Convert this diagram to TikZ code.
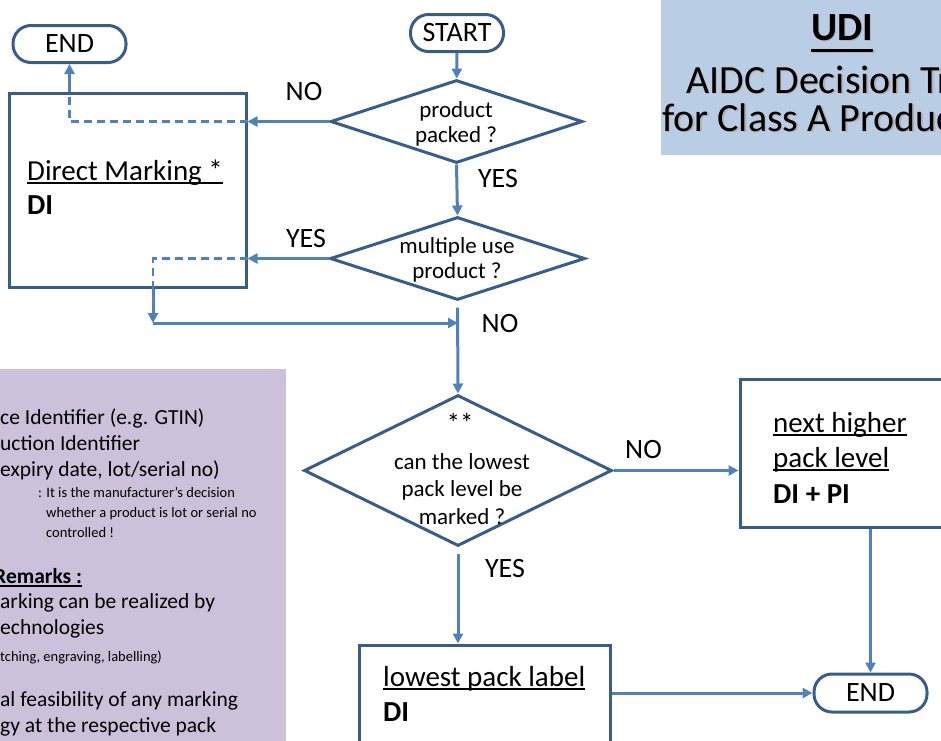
\documentclass[tikz,border=0pt]{standalone}
\usepackage{fontspec}
\setmainfont{Carlito}
\usetikzlibrary{arrows.meta,shapes.geometric}
\definecolor{connc}{RGB}{79,129,189}
\definecolor{bordc}{RGB}{56,93,138}
\definecolor{udifill}{RGB}{185,205,229}
\definecolor{purpfill}{RGB}{204,193,218}
\newlength\ulwd
\newcommand\myul[1]{\settowidth\ulwd{#1}\rlap{\rule[-3.6pt]{\ulwd}{1.7pt}}#1}
\newcommand\bigul[1]{\settowidth\ulwd{#1}\rlap{\rule[-11.5pt]{\ulwd}{3pt}}#1}
\begin{document}
\begin{tikzpicture}[x=1pt,y=-1pt,
  arr/.style={draw=connc, line width=3pt, -{Triangle[length=10pt,width=10pt]}},
  dashline/.style={draw=connc, line width=2.2pt, dash pattern=on 8pt off 5pt},
  term/.style={draw=bordc, line width=3pt, rectangle, rounded corners=18pt, inner sep=0pt, font=\fontsize{28}{34}\selectfont},
  boxst/.style={draw=bordc, line width=3pt, rectangle, inner sep=0pt, fill=white},
  dia/.style={draw=bordc, line width=3pt, diamond, inner sep=0pt, fill=white},
  dtxt/.style={font=\fontsize{23}{25}\selectfont, align=center, inner sep=0pt},
  bigtxt/.style={font=\fontsize{29}{35}\selectfont, anchor=base west, inner sep=0pt},
  lbl/.style={font=\fontsize{28}{34}\selectfont, anchor=base, inner sep=0pt},
  medtxt/.style={font=\fontsize{21.5}{26}\selectfont, anchor=base west, inner sep=0pt},
  smalltxt/.style={font=\fontsize{14.5}{18}\selectfont, anchor=base west, inner sep=0pt},
  titletxt/.style={font=\fontsize{40}{46}\selectfont, inner sep=0pt}
]
\useasboundingbox (0,0) rectangle (941,740);
\clip (0,0) rectangle (941,740);

% background panels
\fill[udifill] (661,-10) rectangle (960,155);
\fill[purpfill] (-10,369) rectangle (286,760);

% title with shadow
\node[titletxt, anchor=base, text=black!30] at (843.5,41.5) {\bfseries\bigul{UDI}};
\node[titletxt, anchor=base] (udi) at (842,40) {\bfseries\bigul{UDI}};
\node[titletxt, anchor=base west, text=black!30] at (687.5,94.5) {AIDC Decision Tree};
\node[titletxt, anchor=base west] (t1) at (686,93) {AIDC Decision Tree};
\node[titletxt, anchor=base west, text=black!30] at (663.5,132.5) {for Class A Products};
\node[titletxt, anchor=base west] (t2) at (662,131) {for Class A Products};

% legend / remarks panel
\node[medtxt] (l1) at (0,424) {ce Identifier (e.g. GTIN)};
\node[medtxt] (l2) at (0,450) {uction Identifier};
\node[medtxt] (l3) at (0,476) {expiry date, lot/serial no)};
\node[smalltxt] (l4) at (38,497) {: It is the manufacturer's decision};
\node[smalltxt] (l5) at (46,517) {whether a product is lot or serial no};
\node[smalltxt] (l6) at (46,537) {controlled !};
\node[medtxt] (l7) at (-6,583) {\bfseries\myul{Remarks :}};
\node[medtxt] (l8) at (0,608) {arking can be realized by};
\node[medtxt] (l9) at (0,634) {echnologies};
\node[smalltxt] (l10) at (0,661) {tching, engraving, labelling)};
\node[medtxt] (l11) at (0,706) {al feasibility of any marking};
\node[medtxt] (l12) at (0,732) {gy at the respective pack};

% terminals
\node[term, minimum width=113pt, minimum height=37pt] (end1) at (69.5,44) {END};
\node[term, minimum width=93pt, minimum height=37pt] (start) at (457,33) {START};
\node[term, minimum width=113pt, minimum height=38pt] (end2) at (870.5,693) {END};

% process boxes
\node[boxst, minimum width=237pt, minimum height=194pt] (dm) at (127.5,190) {};
\node[bigtxt] (dmt1) at (27,180) {\myul{Direct Marking *}};
\node[bigtxt] (dmt2) at (27,214) {\bfseries DI};

\node[boxst, minimum width=260pt, minimum height=148pt] (nh) at (870,453) {};
\node[bigtxt] (nht1) at (773,432) {\myul{next higher}};
\node[bigtxt] (nht2) at (773,467) {\myul{pack level}};
\node[bigtxt] (nht3) at (773,503) {\bfseries DI + PI};

\node[boxst, minimum width=251pt, minimum height=115pt] (lp) at (484.5,702.5) {};
\node[bigtxt] (lpt1) at (383,686) {\myul{lowest pack label}};
\node[bigtxt] (lpt2) at (383,721) {\bfseries DI};

% decisions
\node[dia, minimum width=252pt, minimum height=83pt] (d1) at (456.5,121.5) {};
\node[dtxt] (d1t) at (456,123.5) {product\\packed ?};
\node[dia, minimum width=255pt, minimum height=83pt] (d2) at (457.5,258.5) {};
\node[dtxt] (d2t) at (457,260) {multiple use\\product ?};
\node[dia, minimum width=308pt, minimum height=151pt] (d3) at (458,470.5) {};
\node[dtxt, anchor=base, font=\fontsize{27}{30}\selectfont] (d3s) at (460,432) {**};
\node[dtxt, font=\fontsize{23}{27.5}\selectfont] (d3t) at (462,489) {can the lowest\\pack level be\\marked ?};

% connectors
\draw[arr] (start) -- (d1);
\draw[arr] (d1.west) -- (d1.west -| dm.east);
\draw[dashline] (d1.west -| dm.east) -| (end1.south |- dm.north);
\draw[arr] (end1.south |- dm.north) -- (end1.south);

\draw[arr] (d1.south) -- (d2.north);
\draw[arr] (d2.west) -- (d2.west -| dm.east);
\coordinate (ybot) at (153,323);
\draw[dashline] (d2.west -| dm.east) -| (ybot |- dm.south);
\draw[arr] (ybot |- dm.south) -- (ybot);
\draw[arr] (ybot) -- (ybot -| d3.north);

\draw[arr, shorten <=6pt] (d2.south) -- (d3.north);
\draw[arr] (d3.east) -- (d3.east -| nh.west);
\draw[arr] (end2.north |- nh.south) -- (end2.north);
\draw[arr, shorten <=6pt] (d3.south) -- (d3.south |- lp.north);
\draw[arr] (end2.west -| lp.east) -- (end2.west);

% branch labels
\node[lbl] (no1) at (304,100) {NO};
\node[lbl] (yes1) at (498,187) {YES};
\node[lbl] (yes2) at (306,247) {YES};
\node[lbl] (no2) at (500,332) {NO};
\node[lbl] (no3) at (643.5,458) {NO};
\node[lbl] (yes3) at (505,577) {YES};
\end{tikzpicture}
\end{document}
